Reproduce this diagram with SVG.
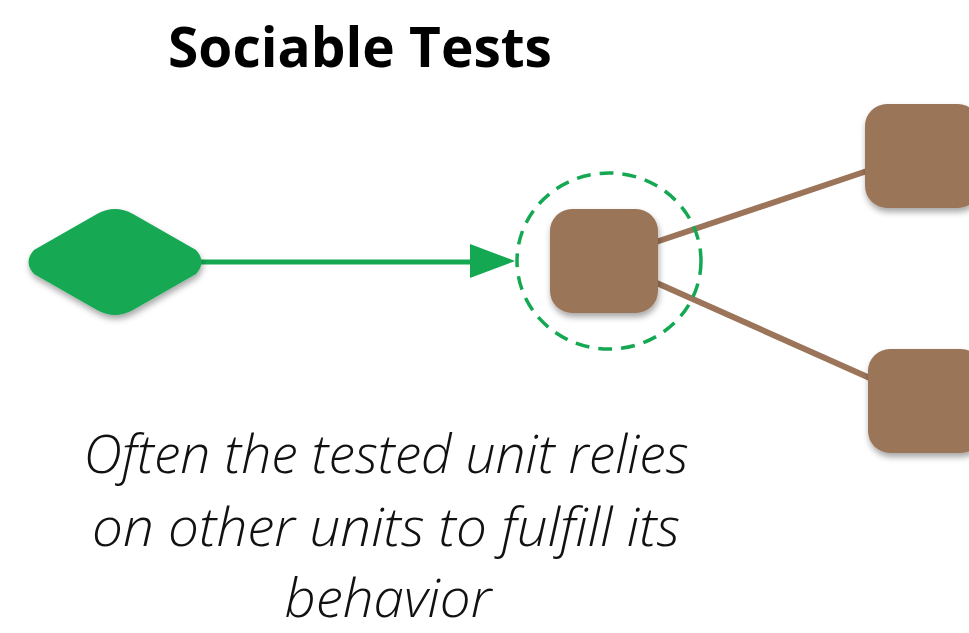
<svg xmlns="http://www.w3.org/2000/svg" width="969" height="633" viewBox="0 0 969 633">
<style>
.title{font-family:"Open Sans","Liberation Sans",sans-serif;font-weight:700;font-size:55px;fill:#000}
.note{font-family:"Open Sans","Liberation Sans",sans-serif;font-weight:300;font-style:italic;font-size:53px;fill:#111}
.unit{fill:#9B7459;filter:url(#sh)}
.dep{stroke:#9B7459;stroke-width:6;fill:none}
</style>
<defs>
<filter id="sh" x="-20%" y="-20%" width="150%" height="150%">
<feDropShadow dx="1" dy="4" stdDeviation="3" flood-color="#000" flood-opacity="0.35"/>
</filter>
</defs>
<rect width="969" height="633" fill="#fff"/>
<text class="title" x="360" y="67" text-anchor="middle">Sociable Tests</text>
<g id="connectors">
<line x1="200" y1="262" x2="472" y2="262" stroke="#14A853" stroke-width="5"/>
<polygon points="470,244 515,261 470,278" fill="#14A853"/>
<line class="dep" x1="650" y1="244" x2="870" y2="170"/>
<line class="dep" x1="650" y1="280" x2="872" y2="379"/>
</g>
<g id="driver">
<path d="M34,250 L97,214 Q115,204 133,214 L196,250 Q207,262 196,274 L133,310 Q115,320 97,310 L34,274 Q23,262 34,250 Z" fill="#14A853" filter="url(#sh)"/>
</g>
<g id="boundary">
<ellipse cx="609" cy="261" rx="92" ry="88" fill="none" stroke="#14A853" stroke-width="3.5" stroke-dasharray="14,9"/>
</g>
<g id="unit">
<rect class="unit" x="550" y="209" width="108" height="104" rx="22"/>
</g>
<g id="dep1">
<rect class="unit" x="865" y="104" width="115" height="104" rx="22"/>
</g>
<g id="dep2">
<rect class="unit" x="868" y="349" width="115" height="104" rx="22"/>
</g>
<text class="note" text-anchor="middle"><tspan x="386" y="473" textLength="605" lengthAdjust="spacingAndGlyphs">Often the tested unit relies</tspan></text>
<text class="note" text-anchor="middle"><tspan x="386" y="546" textLength="588" lengthAdjust="spacingAndGlyphs">on other units to fulfill its</tspan></text>
<text class="note" text-anchor="middle"><tspan x="388" y="617" textLength="207" lengthAdjust="spacingAndGlyphs">behavior</tspan></text>
</svg>
